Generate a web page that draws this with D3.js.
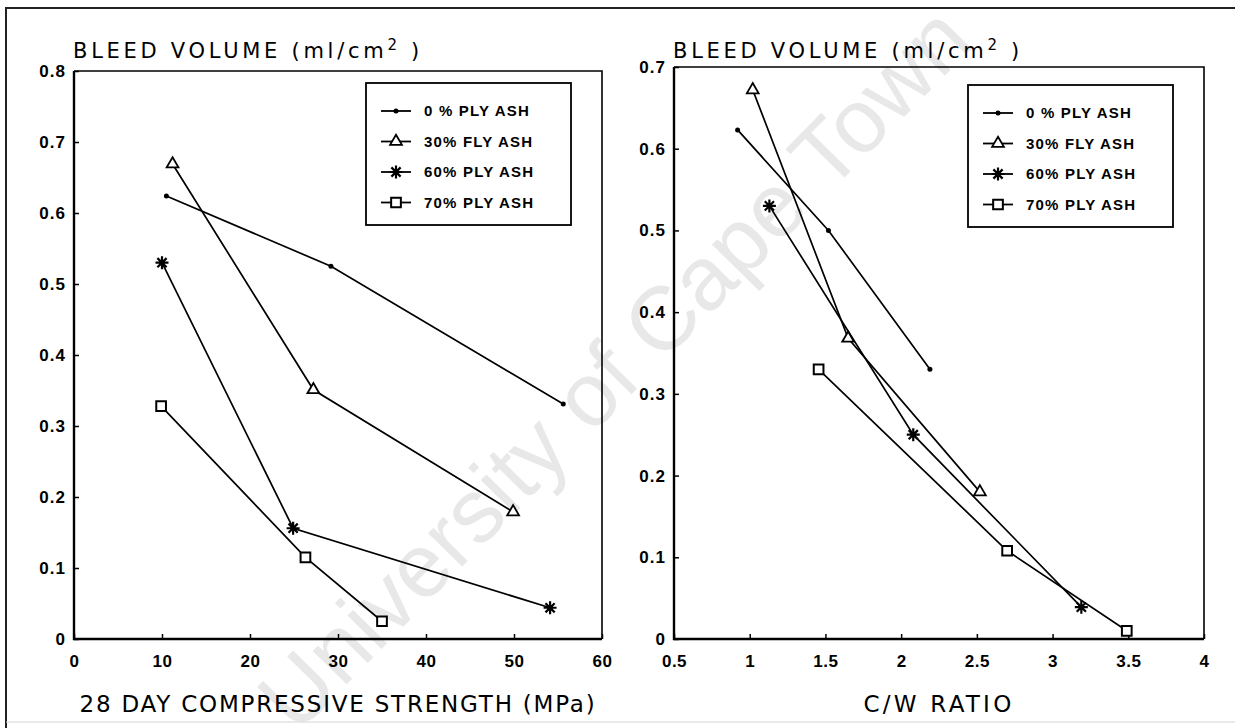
<!DOCTYPE html>
<html>
<head>
<meta charset="utf-8">
<script src="https://cdn.jsdelivr.net/npm/d3@7"></script>
<style>
  body { margin: 0; background: #fff; }
  svg { display: block; }
  text { font-family: "Liberation Sans", Arial, sans-serif; fill: #000; }
  .big { font-family: "DejaVu Sans", "Liberation Sans", sans-serif; }
</style>
</head>
<body>
<div id="chart"></div>
<script>
// legend labels and marker types, one per fly ash content
const seriesNames = ['0 % PLY ASH', '30% FLY ASH', '60% PLY ASH', '70% PLY ASH']
const seriesMarkers = ['dot', 'triangle', 'asterisk', 'square']

// left panel: 28 day compressive strength (MPa) vs bleed volume
const strength0 = [10.5, 29.2, 55.6]
const strengthBleed0 = [0.624, 0.525, 0.331]
const strength30 = [11.2, 27.2, 49.9]
const strengthBleed30 = [0.669, 0.351, 0.179]
const strength60 = [10.0, 24.9, 54.1]
const strengthBleed60 = [0.530, 0.156, 0.044]
const strength70 = [9.9, 26.3, 35.0]
const strengthBleed70 = [0.328, 0.115, 0.025]

// right panel: C/W ratio vs bleed volume
const cw0 = [0.92, 1.52, 2.19]
const cwBleed0 = [0.623, 0.500, 0.330]
const cw30 = [1.02, 1.65, 2.52]
const cwBleed30 = [0.672, 0.368, 0.180]
const cw60 = [1.13, 2.08, 3.19]
const cwBleed60 = [0.530, 0.250, 0.039]
const cw70 = [1.455, 2.70, 3.49]
const cwBleed70 = [0.330, 0.108, 0.010]

const strengthTicks = [0, 10, 20, 30, 40, 50, 60]
const strengthYTicks = [0, 0.1, 0.2, 0.3, 0.4, 0.5, 0.6, 0.7, 0.8]
const cwTicks = [0.5, 1, 1.5, 2, 2.5, 3, 3.5, 4]
const cwYTicks = [0, 0.1, 0.2, 0.3, 0.4, 0.5, 0.6, 0.7]

const W = 1235, H = 728

const zip = (xs, ys) => xs.map((x, i) => ({ x, y: ys[i] }))

const panels = [
  {
    left: 74, right: 602, bottom: 639, top: 71,
    xDomain: [0, 60], yDomain: [0, 0.8],
    xTicks: strengthTicks, yTicks: strengthYTicks,
    xLabel: '28 DAY COMPRESSIVE STRENGTH (MPa)', xLabelWidth: 517,
    legendTop: 83,
    series: [
      zip(strength0, strengthBleed0),
      zip(strength30, strengthBleed30),
      zip(strength60, strengthBleed60),
      zip(strength70, strengthBleed70)
    ]
  },
  {
    left: 674, right: 1204, bottom: 639, top: 67,
    xDomain: [0.5, 4], yDomain: [0, 0.7],
    xTicks: cwTicks, yTicks: cwYTicks,
    xLabel: 'C/W RATIO', xLabelWidth: 151,
    legendTop: 85,
    series: [
      zip(cw0, cwBleed0),
      zip(cw30, cwBleed30),
      zip(cw60, cwBleed60),
      zip(cw70, cwBleed70)
    ]
  }
]

const svg = d3.select('#chart').append('svg')
  .attr('width', W)
  .attr('height', H)

// spread text out to a target width, the original uses a wide plotter font
function fit(sel, width) {
  const len = sel.node().getComputedTextLength()
  const n = sel.text().length
  sel.attr('letter-spacing', (width - len) / n)
}

// watermark sits behind everything
svg.append('text')
  .attr('transform', 'translate(614, 368) rotate(-45.5)')
  .attr('text-anchor', 'middle')
  .attr('dominant-baseline', 'central')
  .style('font-size', '90px')
  .style('fill', '#e8e8e8')
  .text('University of Cape Town')

// outer page frame
svg.append('path')
  .attr('d', `M6,${H}V8H${W}`)
  .attr('fill', 'none')
  .attr('stroke', '#222')
  .attr('stroke-width', 2)

svg.append('line')
  .attr('x1', 6).attr('x2', W)
  .attr('y1', 722).attr('y2', 722)
  .attr('stroke', '#d4d4d4')
  .attr('stroke-width', 1)

function drawMarker(g, type) {
  if (type === 'dot') {
    g.append('circle').attr('r', 2.5).attr('fill', '#000')
  } else if (type === 'triangle') {
    g.append('path')
      .attr('d', d3.symbol(d3.symbolTriangle2, 100)())
      .attr('fill', '#fff').attr('stroke', '#000').attr('stroke-width', 1.8)
  } else if (type === 'square') {
    g.append('path')
      .attr('d', d3.symbol(d3.symbolSquare2, 120)())
      .attr('fill', '#fff').attr('stroke', '#000').attr('stroke-width', 2)
  } else {
    const r = 6.5, q = 4.6
    g.append('path')
      .attr('d', `M${-r},0H${r}M0,${-r}V${r}M${-q},${-q}L${q},${q}M${-q},${q}L${q},${-q}`)
      .attr('fill', 'none').attr('stroke', '#000').attr('stroke-width', 2.2)
  }
}

const tickFmt = d => d === 0 ? '0' : String(d)

panels.forEach(p => {
  const x = d3.scaleLinear().domain(p.xDomain).range([p.left, p.right])
  const y = d3.scaleLinear().domain(p.yDomain).range([p.bottom, p.top])

  const g = svg.append('g')

  // y axis, ticks point inward
  const yAxis = g.append('g')
    .attr('transform', `translate(${p.left},0)`)
    .call(d3.axisLeft(y).tickValues(p.yTicks).tickFormat(tickFmt)
      .tickSizeInner(-5).tickSizeOuter(0).tickPadding(8))
  yAxis.select('.domain').remove()
  yAxis.selectAll('.tick line').attr('stroke-width', 1.5)
  yAxis.selectAll('.tick text')
    .style('font-size', '17px').style('font-weight', 'bold')
    .attr('letter-spacing', 1)

  const xAxis = g.append('g')
    .attr('transform', `translate(0,${p.bottom})`)
    .call(d3.axisBottom(x).tickValues(p.xTicks).tickFormat(tickFmt)
      .tickSizeInner(-5).tickSizeOuter(0).tickPadding(16))
  xAxis.select('.domain').remove()
  xAxis.selectAll('.tick line').attr('stroke-width', 1.5)
  xAxis.selectAll('.tick text')
    .style('font-size', '17px').style('font-weight', 'bold')
    .attr('letter-spacing', 0.5)

  // plot frame: heavier bottom and left edges
  g.append('path')
    .attr('d', `M${p.left},${p.top}H${p.right}V${p.bottom}`)
    .attr('fill', 'none').attr('stroke', '#000').attr('stroke-width', 1.6)
  g.append('path')
    .attr('d', `M${p.left},${p.top}V${p.bottom}H${p.right}`)
    .attr('fill', 'none').attr('stroke', '#000').attr('stroke-width', 2.4)

  const line = d3.line().x(d => x(d.x)).y(d => y(d.y))

  p.series.forEach(pts => {
    g.append('path')
      .attr('d', line(pts))
      .attr('fill', 'none')
      .attr('stroke', '#000')
      .attr('stroke-width', 1.7)
  })
  p.series.forEach((pts, i) => {
    pts.forEach(d => {
      const m = g.append('g').attr('transform', `translate(${x(d.x)},${y(d.y)})`)
      drawMarker(m, seriesMarkers[i])
    })
  })

  // y axis title above the frame
  const title = g.append('text')
    .attr('class', 'big')
    .attr('x', p.left - 1)
    .attr('y', 58)
    .style('font-size', '21px')
  title.append('tspan').text('BLEED VOLUME (ml/cm')
  title.append('tspan').attr('dy', -8).style('font-size', '15px').text('2')
  title.append('tspan').attr('dy', 8).text(' )')
  fit(title, 350)

  const xl = g.append('text')
    .attr('class', 'big')
    .attr('x', (p.left + p.right) / 2)
    .attr('y', 712)
    .attr('text-anchor', 'middle')
    .style('font-size', '23px')
    .text(p.xLabel)
  fit(xl, p.xLabelWidth)

  // legend box
  const lx = p.right - 236
  const legend = g.append('g').attr('transform', `translate(${lx},${p.legendTop})`)
  legend.append('rect')
    .attr('width', 205).attr('height', 142)
    .attr('fill', '#fff').attr('stroke', '#000').attr('stroke-width', 1.8)

  seriesNames.forEach((name, i) => {
    const row = legend.append('g').attr('transform', `translate(0,${28 + i * 30.5})`)
    row.append('line')
      .attr('x1', 15).attr('x2', 45)
      .attr('stroke', '#000').attr('stroke-width', 1.8)
    drawMarker(row.append('g').attr('transform', 'translate(30,0)'), seriesMarkers[i])
    row.append('text')
      .attr('x', 58)
      .attr('dy', '0.36em')
      .style('font-size', '15px')
      .style('font-weight', 'bold')
      .attr('letter-spacing', 1.2)
      .text(name)
  })
})
</script>
</body>
</html>
